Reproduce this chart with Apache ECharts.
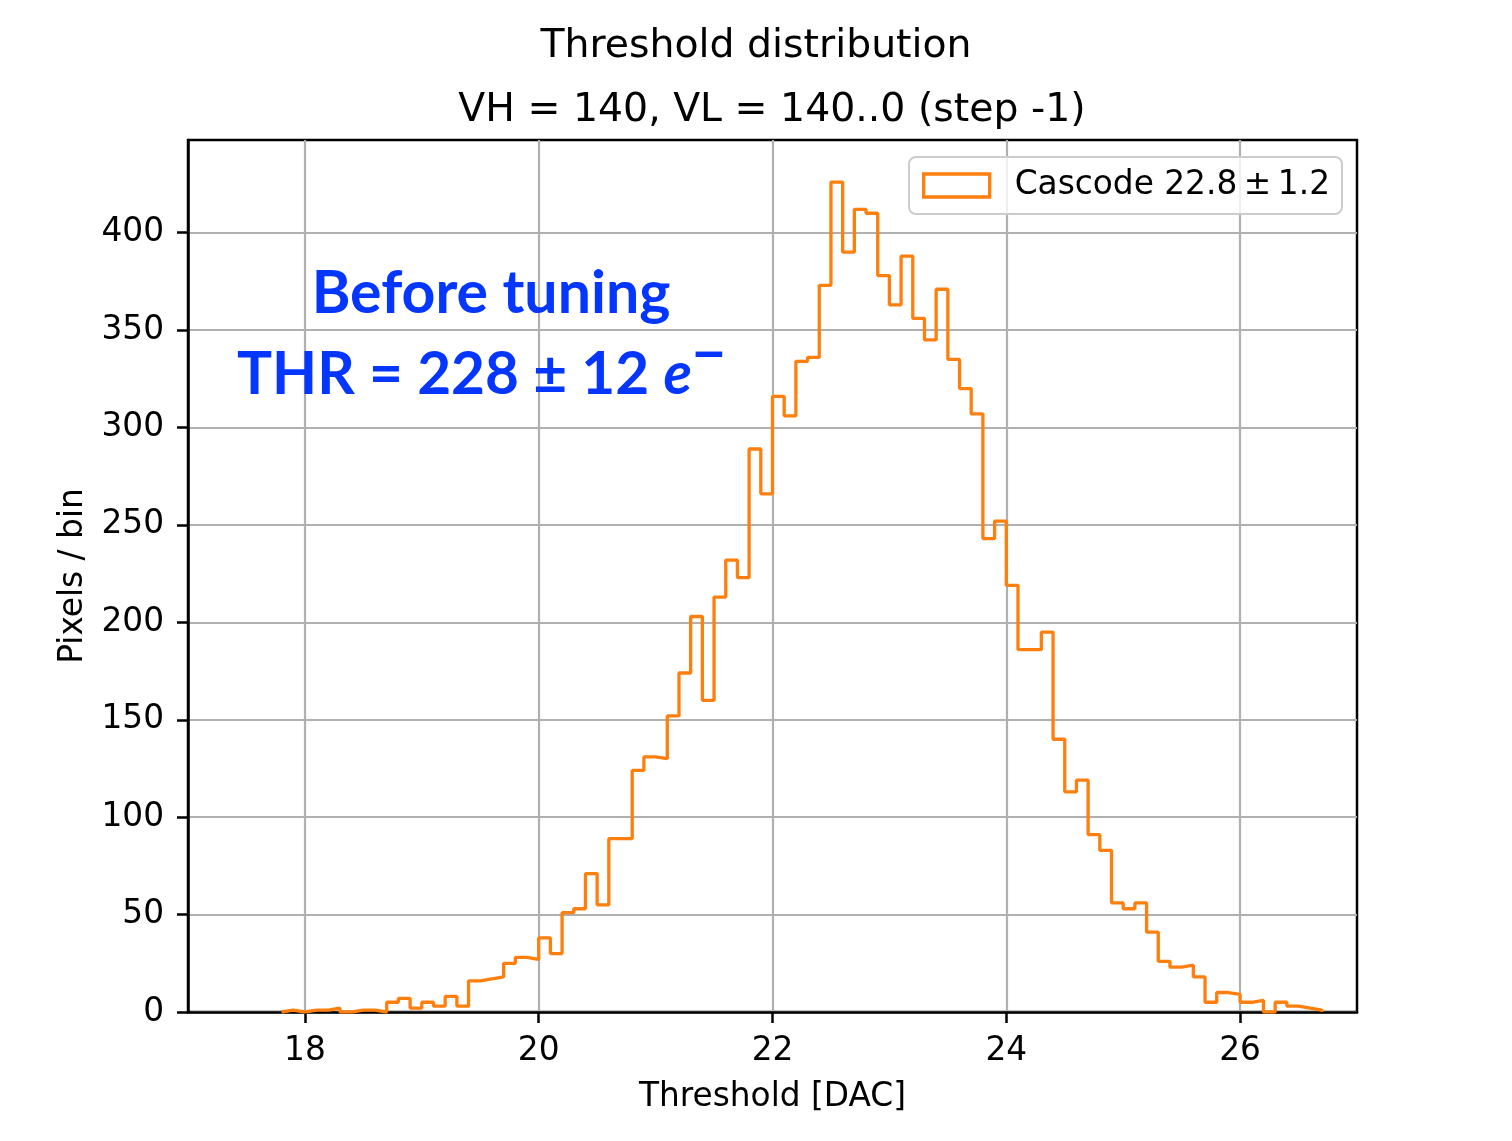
<!DOCTYPE html>
<html>
<head>
<meta charset="utf-8">
<title>Threshold distribution</title>
<script src="https://cdn.jsdelivr.net/npm/echarts@6/dist/echarts.min.js"></script>
<style>
  html, body { margin: 0; padding: 0; background: #fff; }
  #main { width: 1512px; height: 1141px; }
</style>
</head>
<body>
<div id="main"></div>
<script>
// histogram: bins of 0.1 DAC starting at 17.8
var binStart = 17.8;
var binWidth = 0.1;
var counts = [
  1, 0, 1, 1, 2, 0, 1, 1, 0, 5,        // 17.8 .. 18.7
  7, 2, 5, 3, 8, 3, 16, 17, 18, 25,    // 18.8 .. 19.7
  28, 27, 38, 30, 51, 53, 71, 55, 89, 89,   // 19.8 .. 20.7
  124, 131, 130, 152, 174, 203, 160, 213, 232, 223, // 20.8 .. 21.7
  289, 266, 316, 306, 334, 336, 373, 426, 390, 412, // 21.8 .. 22.7
  410, 378, 363, 388, 356, 345, 371, 335, 320, 307, // 22.8 .. 23.7
  243, 252, 219, 186, 186, 195, 140, 113, 119, 91,  // 23.8 .. 24.7
  83, 56, 53, 56, 41, 26, 23, 24, 18, 5,   // 24.8 .. 25.7
  10, 9, 5, 6, 0, 5, 3, 2, 1             // 25.8 .. 26.6
];
var seriesName = 'Cascode 22.8\u2009\u00b1\u20091.2';
var xTicks = [18, 20, 22, 24, 26];
var yTicks = [0, 50, 100, 150, 200, 250, 300, 350, 400];
var titleMain = 'Threshold distribution';
var titleSub = 'VH = 140, VL = 140..0 (step -1)';

var chartDom = document.getElementById('main');
var myChart = echarts.init(chartDom);
var option;

function stepData() {
  // outline like matplotlib histtype='step'
  var pts = [[binStart, 0]];
  for (var i = 0; i < counts.length; i++) {
    var x0 = +(binStart + i * binWidth).toFixed(2);
    var x1 = +(binStart + (i + 1) * binWidth).toFixed(2);
    pts.push([x0, counts[i]]);
    pts.push([x1, counts[i]]);
  }
  pts.push([pts[pts.length - 1][0], 0]);
  return pts;
}

var orange = '#ff7f0e';
var fontMain = 'DejaVu Sans';
var blue = '#0536ff';

option = {
  animation: false,
  backgroundColor: '#fff',
  grid: {
    left: 188,
    top: 140,
    right: 155,
    bottom: 129,
    show: true,
    borderColor: '#000',
    borderWidth: 2.5,
    backgroundColor: 'transparent'
  },
  legend: {
    data: [{ name: seriesName, icon: 'rect' }],
    left: 909,
    top: 157,
    orient: 'vertical',
    padding: [12, 12, 12, 13],
    itemWidth: 66,
    itemHeight: 23,
    backgroundColor: 'rgba(255,255,255,0.8)',
    borderColor: '#cccccc',
    borderWidth: 2,
    borderRadius: 7,
    itemStyle: {
      color: '#ffffff',
      borderColor: orange,
      borderWidth: 3.3
    },
    textStyle: {
      fontFamily: fontMain,
      fontSize: 32.8,
      color: '#000',
      padding: [0, 0, 0, 20]
    }
  },
  xAxis: {
    type: 'value',
    min: 17,
    max: 27,
    name: 'Threshold [DAC]',
    nameLocation: 'middle',
    nameGap: 69,
    nameTextStyle: { fontFamily: fontMain, fontSize: 32.8, color: '#000' },
    axisLine: { show: true, onZero: false, lineStyle: { color: '#000', width: 2.5 } },
    axisTick: {
      show: true,
      inside: false,
      length: 11,
      customValues: xTicks,
      lineStyle: { color: '#000', width: 2.5 }
    },
    axisLabel: {
      customValues: xTicks,
      margin: 23,
      fontFamily: fontMain,
      fontSize: 32.8,
      color: '#000'
    },
    splitLine: { show: true, lineStyle: { color: '#b0b0b0', width: 2.2 } }
  },
  yAxis: {
    type: 'value',
    min: 0,
    max: 447.6,
    name: 'Pixels / bin',
    nameLocation: 'middle',
    nameGap: 98,
    nameRotate: 90,
    nameTextStyle: { fontFamily: fontMain, fontSize: 32.8, color: '#000' },
    axisLine: { show: true, lineStyle: { color: '#000', width: 2.5 } },
    axisTick: {
      show: true,
      inside: false,
      length: 11,
      customValues: yTicks,
      lineStyle: { color: '#000', width: 2.5 }
    },
    axisLabel: {
      customValues: yTicks,
      margin: 24,
      fontFamily: fontMain,
      fontSize: 32.8,
      color: '#000'
    },
    splitLine: { show: true, lineStyle: { color: '#b0b0b0', width: 2.2 } }
  },
  graphic: [
    {
      type: 'text',
      x: 756,
      y: 47,
      style: {
        text: titleMain,
        font: '39.4px "DejaVu Sans"',
        fill: '#000',
        align: 'center',
        verticalAlign: 'middle'
      }
    },
    {
      type: 'text',
      x: 772,
      y: 111,
      style: {
        text: titleSub,
        font: '39.4px "DejaVu Sans"',
        fill: '#000',
        align: 'center',
        verticalAlign: 'middle'
      }
    },
    {
      type: 'text',
      x: 491,
      y: 294,
      z: 100,
      style: {
        text: 'Before tuning',
        font: 'bold 59px Lato',
        fill: blue,
        align: 'center',
        verticalAlign: 'middle'
      }
    },
    {
      type: 'text',
      x: 237,
      y: 375,
      z: 100,
      style: {
        text: '{a|THR = 228 \u00b1 12 }{e|e}',
        align: 'left',
        verticalAlign: 'middle',
        rich: {
          a: { fontFamily: 'Lato', fontWeight: 'bold', fontSize: 58.5, fill: blue },
          e: { fontFamily: 'Lato', fontWeight: 'bold', fontStyle: 'italic', fontSize: 58.5, fill: blue }
        }
      }
    },
    {
      type: 'text',
      x: 709,
      y: 355,
      z: 100,
      style: {
        text: '\u2212',
        font: 'bold 60px Lato',
        fill: blue,
        align: 'center',
        verticalAlign: 'middle'
      }
    }
  ],
  series: [
    {
      name: seriesName,
      type: 'line',
      showSymbol: false,
      symbol: 'none',
      clip: true,
      color: orange,
      lineStyle: { color: orange, width: 3.3 },
      itemStyle: { color: orange },
      data: stepData()
    }
  ]
};

myChart.setOption(option);
</script>
</body>
</html>
